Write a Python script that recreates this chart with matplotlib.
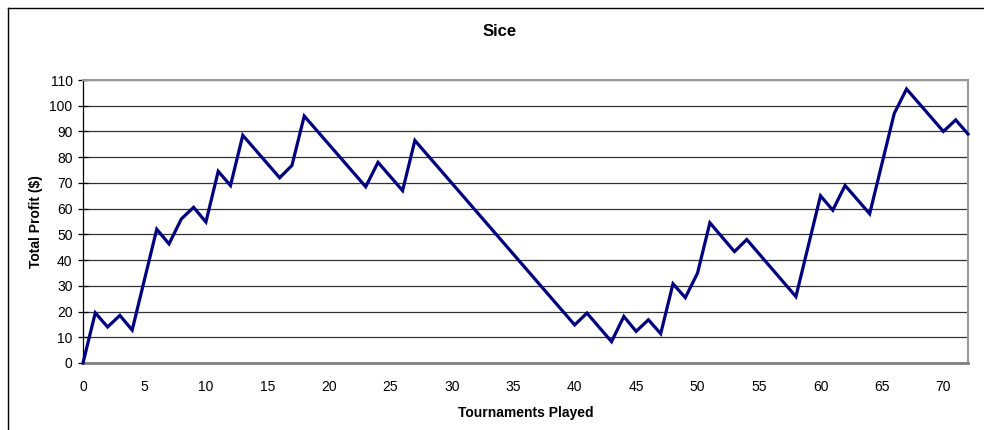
import matplotlib
matplotlib.use("Agg")
import matplotlib.pyplot as plt
from matplotlib.lines import Line2D

plt.rcParams['font.family'] = ['Liberation Sans', 'DejaVu Sans']

# Turning points of the profit curve (tournament, total profit)
tournaments = [0, 1, 2, 3, 4, 6, 7, 8, 9, 10, 11, 12, 13, 16, 17, 18, 23, 24, 26, 27,
               40, 41, 43, 44, 45, 46, 47, 48, 49, 50, 51, 53, 54, 58, 60, 61, 62, 64,
               66, 67, 70, 71, 72]
profit = [0, 19.5, 14, 18.5, 12.8, 52, 46.3, 56, 60.5, 54.8, 74.5, 69, 88.5, 72, 76.8, 96,
          68.5, 78, 67, 86.5, 14.8, 19.4, 8.3, 18.1, 12.3, 16.8, 11.4, 30.8, 25.4, 35,
          54.5, 43.3, 48, 25.8, 65, 59.4, 69, 58, 97, 106.5, 90, 94.5, 89]

y_ticks = list(range(0, 111, 10))
x_ticks = list(range(0, 71, 5))

fig = plt.figure(figsize=(9.84, 4.30), dpi=100)
ax = fig.add_axes([83 / 984, 1 - 363 / 430, (968 - 83) / 984, (363 - 80) / 430])

# outer chart frame (only left and top edges fall inside the image)
fig.add_artist(Line2D([7.5 / 984, 7.5 / 984], [0, 1 - 7.5 / 430], color="black", lw=1.0,
                      transform=fig.transFigure))
fig.add_artist(Line2D([7.5 / 984, 1], [1 - 7.5 / 430, 1 - 7.5 / 430], color="black", lw=1.0,
                      transform=fig.transFigure))

for y in y_ticks[1:]:
    ax.axhline(y, color="#333333", lw=0.9, zorder=1)

ax.plot(tournaments, profit, color="#000080", lw=2.3, zorder=3, clip_on=False,
        solid_joinstyle="miter")

ax.set_xlim(0, 72)
ax.set_ylim(0, 110)
ax.set_xticks(x_ticks)
ax.set_yticks(y_ticks)
ax.tick_params(axis="x", length=0, pad=12, labelsize=10)
ax.tick_params(axis="y", direction="inout", length=7, width=0.9, pad=4, labelsize=10)

ax.spines["left"].set_color("black")
ax.spines["left"].set_linewidth(0.9)
ax.spines["bottom"].set_color("#808080")
ax.spines["bottom"].set_linewidth(2.0)
ax.spines["top"].set_color("#999999")
ax.spines["top"].set_linewidth(1.5)
ax.spines["right"].set_color("#999999")
ax.spines["right"].set_linewidth(1.5)

fig.text(500 / 984, 1 - 31 / 430, "Sice", ha="center", va="center",
         fontsize=12, fontweight="bold")
ax.set_xlabel("Tournaments Played", fontsize=10, fontweight="bold", labelpad=9)
ax.set_ylabel("Total Profit ($)", fontsize=10, fontweight="bold", labelpad=5)

fig.savefig("out.png", dpi=100)
